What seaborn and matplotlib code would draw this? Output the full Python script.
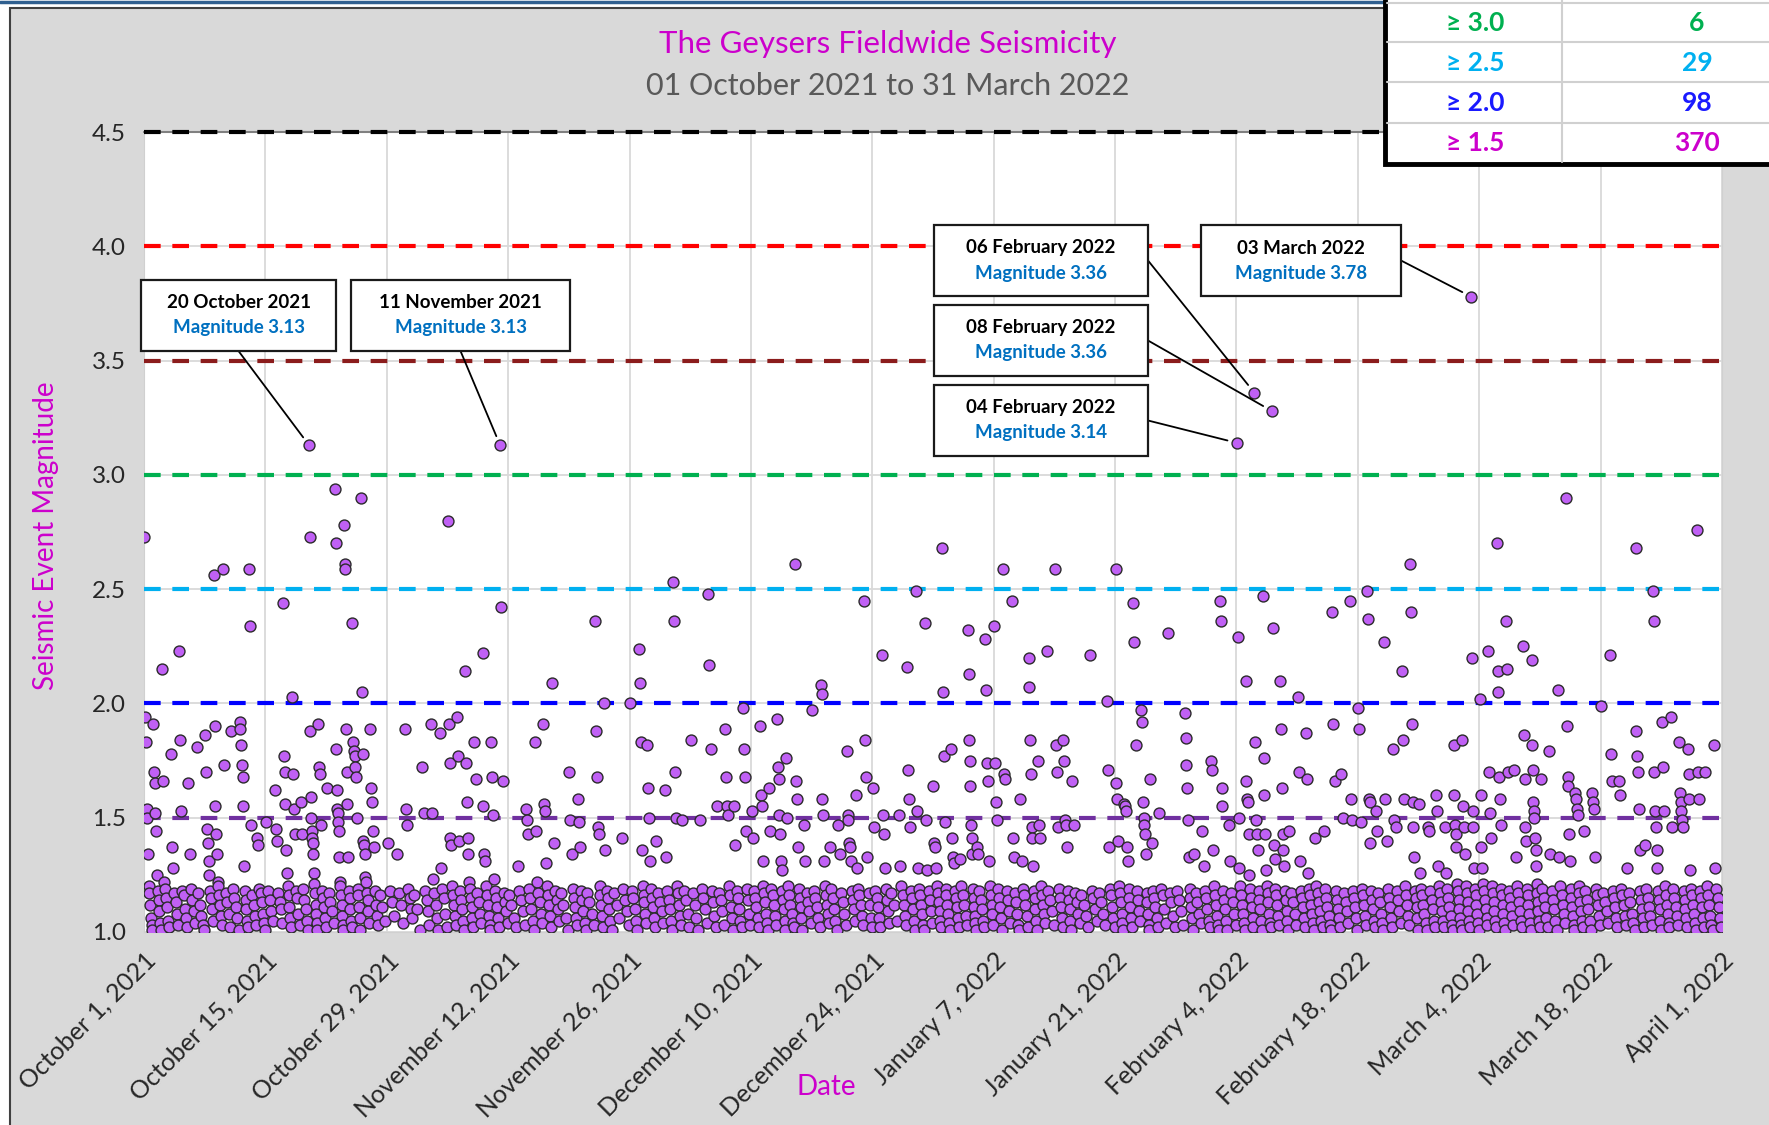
import pandas as pd
import matplotlib
matplotlib.use("Agg")
import matplotlib.pyplot as plt
import matplotlib.dates as mdates
from matplotlib.patches import Rectangle
from matplotlib.lines import Line2D
import seaborn as sns

# magnitudes, one string per day of the month
october = [
    "2.73 1.94 1.83 1.54 1.50 1.34 1.20 1.17 1.12 1.06 1.03 1.01",
    "1.91 1.70 1.65 1.52 1.44 1.25 1.18 1.14 1.09 1.04 1.01",
    "2.15 1.66 1.22 1.19 1.15 1.11 1.05 1.02",
    "1.78 1.37 1.28 1.17 1.13 1.08 1.03",
    "2.23 1.84 1.53 1.18 1.16 1.10 1.06 1.02",
    "1.65 1.34 1.19 1.14 1.09 1.04",
    "1.81 1.17 1.12 1.07 1.03 1.01",
    "1.86 1.70 1.45 1.39 1.31 1.25 1.18 1.15 1.10 1.05",
    "2.56 1.90 1.55 1.43 1.34 1.22 1.20 1.16 1.12 1.07 1.03",
    "2.59 1.73 1.17 1.13 1.08 1.02",
    "1.88 1.19 1.15 1.11 1.06 1.01",
    "1.92 1.89 1.82 1.73 1.68 1.55 1.29 1.18 1.14 1.10 1.05 1.02",
    "2.59 2.34 1.47 1.16 1.12 1.07 1.03",
    "1.41 1.38 1.19 1.17 1.13 1.08 1.04 1.01",
    "1.48 1.18 1.14 1.09 1.05",
    "1.62 1.45 1.40 1.17 1.13 1.10 1.04",
    "2.44 1.77 1.70 1.56 1.36 1.26 1.20 1.16 1.11 1.06 1.02",
    "2.03 1.69 1.54 1.43 1.18 1.15 1.08 1.03",
    "1.57 1.43 1.19 1.14 1.10 1.05 1.01",
    "3.13 2.73 1.88 1.59 1.50 1.44 1.41 1.39 1.34 1.26 1.21 1.17 1.12 1.08 1.04 1.01",
    "1.91 1.72 1.69 1.47 1.18 1.15 1.11 1.06 1.02",
    "1.63 1.17 1.13 1.09 1.04",
    "2.94 2.70 1.80 1.62 1.54 1.52 1.48 1.44 1.33 1.22 1.20 1.16 1.12 1.07 1.03 1.01",
    "2.78 2.61 2.59 1.89 1.70 1.56 1.33 1.18 1.15 1.10 1.05 1.02",
    "2.35 1.83 1.79 1.77 1.72 1.68 1.50 1.19 1.16 1.11 1.06 1.01",
    "2.90 2.05 1.78 1.40 1.38 1.34 1.24 1.22 1.17 1.14 1.09 1.04",
    "1.89 1.63 1.57 1.44 1.37 1.18 1.12 1.07 1.03",
    "1.16 1.11 1.05",
    "1.39 1.18 1.13 1.07",
    "1.34 1.17 1.12 1.04",
    "1.89 1.54 1.47 1.19 1.15 1.10 1.06",
]
november = [
    "1.16 1.10 1.01",
    "1.72 1.52 1.18 1.14 1.09 1.03",
    "1.91 1.52 1.23 1.17 1.12 1.06 1.01",
    "1.87 1.28 1.19 1.15 1.08 1.02",
    "2.80 1.91 1.74 1.41 1.38 1.20 1.16 1.12 1.07 1.03",
    "1.94 1.77 1.40 1.18 1.14 1.10 1.05 1.01",
    "2.14 1.74 1.57 1.41 1.34 1.22 1.19 1.15 1.11 1.06 1.02",
    "1.83 1.67 1.17 1.13 1.08 1.04",
    "2.22 1.55 1.34 1.31 1.20 1.16 1.12 1.07 1.03 1.01",
    "1.83 1.68 1.51 1.23 1.18 1.15 1.11 1.06 1.02",
    "3.13 2.42 1.66 1.17 1.13 1.09 1.04",
    "1.16 1.12 1.06 1.02",
    "1.29 1.18 1.14 1.09 1.03",
    "1.54 1.49 1.43 1.19 1.15 1.10 1.05 1.01",
    "1.83 1.44 1.22 1.17 1.13 1.08 1.04",
    "1.91 1.56 1.53 1.30 1.20 1.16 1.12 1.07 1.02",
    "2.09 1.39 1.18 1.14 1.10 1.05",
    "1.17 1.12 1.06 1.01",
    "1.70 1.49 1.34 1.19 1.15 1.11 1.06 1.03",
    "1.58 1.48 1.37 1.18 1.14 1.09 1.04 1.01",
    "1.17 1.13 1.08 1.03",
    "2.36 1.88 1.68 1.46 1.43 1.20 1.16 1.12 1.07 1.02",
    "2.00 1.36 1.18 1.15 1.10 1.05 1.01",
    "1.17 1.12 1.06",
    "1.41 1.19 1.14 1.09 1.03",
    "2.00 1.18 1.15 1.10 1.05 1.01",
    "2.24 2.09 1.83 1.36 1.20 1.16 1.13 1.08 1.04",
    "1.82 1.63 1.50 1.31 1.19 1.15 1.11 1.06 1.02",
    "1.40 1.17 1.13 1.09 1.04",
    "1.62 1.33 1.18 1.14 1.10 1.05 1.01",
]
december = [
    "2.53 2.36 1.70 1.50 1.20 1.17 1.12 1.07 1.03",
    "1.49 1.18 1.14 1.08 1.02",
    "1.84 1.17 1.12 1.06 1.01",
    "1.49 1.19 1.15 1.10 1.04",
    "2.48 2.17 1.80 1.18 1.13 1.07 1.02",
    "1.55 1.17 1.14 1.09 1.03",
    "1.89 1.68 1.55 1.51 1.20 1.16 1.11 1.06 1.01",
    "1.55 1.38 1.18 1.15 1.10 1.05 1.02",
    "1.98 1.80 1.68 1.44 1.19 1.14 1.08 1.03",
    "1.53 1.41 1.18 1.15 1.11 1.06 1.02",
    "1.90 1.60 1.55 1.31 1.20 1.17 1.13 1.08 1.04 1.01",
    "1.63 1.44 1.19 1.16 1.12 1.07 1.03",
    "1.93 1.72 1.67 1.51 1.43 1.31 1.27 1.18 1.14 1.10 1.05 1.01",
    "1.76 1.50 1.20 1.16 1.12 1.08 1.04 1.02",
    "2.61 1.66 1.58 1.37 1.19 1.15 1.11 1.06 1.01",
    "1.47 1.31 1.17 1.13 1.09 1.04",
    "1.97 1.18 1.15 1.11 1.06 1.02",
    "2.08 2.04 1.58 1.51 1.31 1.20 1.16 1.12 1.08 1.04",
    "1.37 1.19 1.15 1.10 1.05 1.01",
    "1.47 1.34 1.17 1.13 1.08 1.03",
    "1.79 1.51 1.49 1.39 1.37 1.31 1.18 1.14 1.10 1.05",
    "1.60 1.28 1.19 1.16 1.12 1.07 1.03",
    "2.45 1.84 1.68 1.33 1.17 1.12 1.06 1.02",
    "1.63 1.46 1.18 1.15 1.11 1.06 1.02",
    "2.21 1.51 1.43 1.28 1.19 1.14 1.09 1.04",
    "1.17 1.12 1.05",
    "1.51 1.29 1.20 1.16 1.12 1.07 1.03",
    "2.16 1.71 1.58 1.46 1.18 1.15 1.10 1.05 1.01",
    "2.49 1.53 1.28 1.19 1.16 1.12 1.08 1.03 1.01",
    "2.35 1.49 1.27 1.18 1.14 1.09 1.04",
    "1.64 1.39 1.37 1.28 1.20 1.17 1.13 1.09 1.05 1.02",
]
january = [
    "2.68 2.05 1.77 1.48 1.19 1.16 1.12 1.08 1.04 1.01",
    "1.80 1.41 1.33 1.30 1.18 1.15 1.11 1.06 1.02",
    "1.32 1.20 1.16 1.12 1.07 1.03",
    "2.32 2.13 1.84 1.75 1.64 1.47 1.41 1.34 1.19 1.15 1.11 1.07 1.04 1.01",
    "1.37 1.34 1.18 1.14 1.10 1.05 1.02",
    "2.28 2.06 1.74 1.66 1.31 1.20 1.16 1.12 1.08 1.03",
    "2.34 1.74 1.57 1.49 1.19 1.15 1.11 1.06 1.01",
    "2.59 1.69 1.67 1.18 1.14 1.09 1.04",
    "2.45 1.41 1.33 1.17 1.13 1.08 1.03 1.01",
    "1.58 1.31 1.19 1.16 1.12 1.07 1.02",
    "2.20 2.07 1.84 1.69 1.46 1.41 1.29 1.18 1.15 1.10 1.05 1.01",
    "1.75 1.47 1.41 1.20 1.16 1.12 1.08 1.04",
    "2.23 1.18 1.14 1.09 1.03",
    "2.59 1.82 1.70 1.46 1.19 1.15 1.11 1.06 1.02",
    "1.84 1.75 1.49 1.47 1.37 1.18 1.14 1.10 1.05 1.01",
    "1.66 1.47 1.17 1.13 1.08 1.04",
    "1.16 1.12 1.07 1.02",
    "2.21 1.18 1.15 1.10 1.05",
    "1.17 1.13 1.08 1.03",
    "2.01 1.71 1.37 1.19 1.16 1.11 1.06 1.02",
    "2.59 1.65 1.58 1.40 1.20 1.17 1.13 1.08 1.04 1.01",
    "1.56 1.55 1.53 1.37 1.31 1.19 1.15 1.11 1.06 1.02",
    "2.44 2.27 1.82 1.18 1.14 1.09 1.05",
    "1.97 1.92 1.57 1.50 1.47 1.43 1.34 1.17 1.13 1.08 1.03 1.01",
    "1.67 1.39 1.18 1.15 1.11 1.06 1.02",
    "1.52 1.19 1.16 1.10 1.04",
    "2.31 1.17 1.13 1.07 1.02",
    "1.18 1.14 1.09 1.03",
    "1.96 1.85 1.73 1.63 1.49 1.33 1.19 1.15 1.11 1.06 1.01",
    "1.34 1.17 1.13 1.08 1.04",
    "1.44 1.29 1.18 1.15 1.10 1.05 1.02",
]
february = [
    "1.75 1.71 1.36 1.20 1.16 1.12 1.07 1.03 1.01",
    "2.45 2.36 1.63 1.55 1.18 1.14 1.10 1.05 1.01",
    "1.47 1.31 1.17 1.13 1.08 1.03",
    "3.14 2.29 1.50 1.28 1.20 1.16 1.12 1.08 1.04 1.01",
    "2.10 1.66 1.58 1.57 1.43 1.25 1.19 1.15 1.11 1.06 1.02",
    "3.36 1.83 1.49 1.43 1.36 1.18 1.14 1.10 1.05 1.01",
    "2.47 1.76 1.60 1.43 1.27 1.20 1.17 1.13 1.08 1.04 1.02",
    "3.28 2.33 1.38 1.32 1.19 1.16 1.12 1.07 1.03",
    "2.10 1.89 1.63 1.43 1.36 1.29 1.18 1.14 1.09 1.05 1.01",
    "1.44 1.17 1.13 1.08 1.03",
    "2.03 1.70 1.31 1.18 1.15 1.11 1.06 1.02",
    "1.87 1.67 1.26 1.19 1.16 1.12 1.08 1.04 1.01",
    "1.41 1.20 1.17 1.13 1.09 1.05 1.02",
    "1.44 1.19 1.15 1.11 1.07 1.03 1.01",
    "2.40 1.91 1.66 1.18 1.14 1.10 1.06 1.02",
    "1.69 1.50 1.17 1.13 1.09 1.04",
    "2.45 1.58 1.49 1.18 1.15 1.11 1.06 1.01",
    "1.98 1.89 1.48 1.19 1.16 1.12 1.07 1.03",
    "2.49 2.37 1.58 1.57 1.39 1.18 1.14 1.10 1.05 1.02",
    "1.53 1.44 1.17 1.13 1.08 1.04 1.01",
    "2.27 1.58 1.40 1.19 1.15 1.11 1.06 1.02",
    "1.80 1.49 1.46 1.18 1.14 1.09 1.04",
    "2.14 1.84 1.58 1.20 1.16 1.12 1.07 1.03",
    "2.61 2.40 1.91 1.57 1.46 1.33 1.18 1.15 1.11 1.06 1.01",
    "1.56 1.26 1.19 1.16 1.12 1.08 1.04 1.01",
    "1.46 1.44 1.18 1.14 1.10 1.05 1.02",
    "1.60 1.53 1.29 1.20 1.17 1.13 1.09 1.05 1.02",
    "1.46 1.26 1.19 1.15 1.11 1.07 1.03 1.01",
]
march = [
    "1.82 1.60 1.47 1.43 1.37 1.21 1.18 1.14 1.10 1.06 1.03 1.01",
    "1.84 1.55 1.46 1.34 1.20 1.17 1.13 1.09 1.05 1.02",
    "3.78 2.20 1.53 1.46 1.28 1.19 1.16 1.12 1.08 1.04 1.01",
    "2.02 1.60 1.37 1.28 1.21 1.18 1.14 1.10 1.06 1.03",
    "2.23 1.70 1.52 1.41 1.20 1.17 1.13 1.09 1.05 1.02",
    "2.70 2.14 2.05 1.68 1.58 1.47 1.19 1.16 1.12 1.08 1.04 1.01",
    "2.36 2.15 1.70 1.18 1.15 1.11 1.07 1.03",
    "1.71 1.33 1.20 1.17 1.13 1.09 1.05 1.02",
    "2.25 1.86 1.67 1.46 1.40 1.19 1.16 1.12 1.08 1.04 1.01",
    "2.19 1.82 1.71 1.57 1.53 1.50 1.41 1.36 1.29 1.21 1.17 1.13 1.09 1.05 1.02",
    "1.67 1.19 1.15 1.11 1.06 1.02",
    "1.79 1.34 1.18 1.14 1.10 1.05 1.01",
    "2.06 1.33 1.20 1.16 1.12 1.08 1.04",
    "2.90 1.90 1.68 1.64 1.43 1.31 1.19 1.15 1.11 1.07 1.03 1.01",
    "1.61 1.58 1.54 1.51 1.20 1.17 1.13 1.09 1.05 1.02",
    "1.44 1.18 1.14 1.10 1.05 1.01",
    "1.61 1.57 1.54 1.33 1.19 1.16 1.12 1.07 1.03",
    "1.99 1.17 1.13 1.09 1.04",
    "2.21 1.78 1.66 1.18 1.15 1.11 1.06 1.02",
    "1.66 1.60 1.19 1.16 1.12 1.07 1.03",
    "1.28 1.17 1.13 1.08 1.04 1.01",
    "2.68 1.88 1.77 1.70 1.54 1.36 1.18 1.14 1.10 1.06 1.02",
    "1.38 1.19 1.15 1.11 1.07 1.03",
    "2.49 2.36 1.70 1.53 1.46 1.36 1.28 1.18 1.14 1.10 1.05 1.01",
    "1.92 1.72 1.53 1.20 1.16 1.12 1.08 1.04 1.02",
    "1.94 1.46 1.19 1.15 1.11 1.07 1.03",
    "1.83 1.61 1.57 1.53 1.49 1.46 1.18 1.14 1.10 1.06 1.02",
    "1.80 1.69 1.58 1.27 1.19 1.16 1.12 1.08 1.04 1.01",
    "2.76 1.70 1.58 1.18 1.15 1.11 1.06 1.02",
    "1.70 1.20 1.16 1.12 1.07 1.03 1.01",
    "1.82 1.28 1.19 1.15 1.11 1.06 1.02",
]
month_starts = ["2021-10-01", "2021-11-01", "2021-12-01", "2022-01-01", "2022-02-01", "2022-03-01"]
month_lists = [october, november, december, january, february, march]

threshold_levels = [4.5, 4.0, 3.5, 3.0, 2.5, 2.0, 1.5]
threshold_colors = ["#000000", "#ff0000", "#8b1c1c", "#00b050", "#00b0f0", "#0000ff", "#7030a0"]

table_labels = ["\u2265 3.0", "\u2265 2.5", "\u2265 2.0", "\u2265 1.5"]
table_counts = [6, 29, 98, 370]
table_colors = ["#00b050", "#00b0f0", "#1a1aff", "#cc00cc"]

annot_dates = ["2021-10-20", "2021-11-11", "2022-02-06", "2022-02-08", "2022-02-04", "2022-03-03"]
annot_titles = ["20 October 2021", "11 November 2021", "06 February 2022",
                "08 February 2022", "04 February 2022", "03 March 2022"]
annot_mags = ["3.13", "3.13", "3.36", "3.36", "3.14", "3.78"]
# box (left, top, right, bottom) in pixels and where the leader line leaves the box
annot_boxes = [(141, 280, 336, 351), (351, 280, 570, 351), (934, 225, 1148, 296),
               (934, 305, 1148, 376), (934, 385, 1148, 456), (1201, 225, 1401, 296)]
annot_anchor = [(0.5, 0.0), (0.5, 0.0), (1.0, 0.5), (1.0, 0.5), (1.0, 0.5), (1.0, 0.5)]

# build the event table; events of one day are spread across that day
rows = []
for start, days in zip(month_starts, month_lists):
    first = pd.Timestamp(start)
    for i, entry in enumerate(days):
        mags = [float(v) for v in entry.split()]
        n = len(mags)
        for k, m in enumerate(mags):
            rows.append((first + pd.Timedelta(days=i) + pd.Timedelta(hours=24 * (k + 0.5) / n), m))
quakes = pd.DataFrame(rows, columns=["date", "magnitude"])

sns.set_style("white")
plt.rcParams["font.family"] = ["Lato", "DejaVu Sans"]

W, H = 1769, 1125
def fx(px):
    return px / W
def fy(py):
    return 1 - py / H

fig = plt.figure(figsize=(W / 100, H / 100), dpi=100, facecolor="white")
# chart area with frame, kept behind the axes
fig.patches.append(Rectangle((fx(10), -0.01), 1.0, fy(8) + 0.01, transform=fig.transFigure,
                             facecolor="#d9d9d9", edgecolor="#404040", lw=1.5, zorder=-5))
fig.lines.append(Line2D([0, 1], [fy(1.5), fy(1.5)], transform=fig.transFigure,
                        color="#2f5f8f", lw=2.5, zorder=-4))

ax = fig.add_axes([fx(144), fy(932), fx(1722) - fx(144), fy(132) - fy(932)])
ax.set_facecolor("white")

for lvl, col in zip(threshold_levels, threshold_colors):
    ax.axhline(lvl, color=col, lw=3, ls=(0, (4, 2.8)), zorder=3, clip_on=False)

sns.scatterplot(data=quakes, x="date", y="magnitude", s=62, color="#c060f5",
                edgecolor="#2b2b2b", linewidth=1.0, ax=ax, zorder=5, legend=False)

ax.set_ylim(1.0, 4.5)
ax.set_yticks([1.0, 1.5, 2.0, 2.5, 3.0, 3.5, 4.0, 4.5])
ax.set_yticklabels([f"{v:.1f}" for v in ax.get_yticks()])
ticks = pd.date_range("2021-10-01", "2022-04-01", freq="14D")
ax.set_xlim(ticks[0], ticks[-1])
ax.set_xticks(ticks)
ax.set_xticklabels([f"{d:%B} {d.day}, {d.year}" for d in ticks], rotation=45,
                   ha="right", va="top", rotation_mode="anchor")
ax.tick_params(axis="x", length=0, pad=12, labelsize=18, labelcolor="#262626")
ax.tick_params(axis="y", length=0, pad=13, labelsize=17.5, labelcolor="#262626")
ax.grid(True, color="#d9d9d9", lw=1.3, zorder=0)
ax.set_axisbelow(True)
for side in ["left", "right", "bottom"]:
    ax.spines[side].set_color("#d0d0d0")
ax.spines["top"].set_color("#808080")
ax.spines["top"].set_linewidth(1.5)
ax.set_xlabel("")
ax.set_ylabel("")

fig.text(fx(888), fy(44), "The Geysers Fieldwide Seismicity", ha="center", va="center",
         color="#cc00cc", fontsize=22.5)
fig.text(fx(888), fy(86), "01 October 2021 to 31 March 2022", ha="center", va="center",
         color="#595959", fontsize=22)
fig.text(fx(46), fy(536), "Seismic Event Magnitude", rotation=90, ha="center", va="center",
         color="#cc00cc", fontsize=20)
fig.text(fx(826), fy(1087), "Date", ha="center", va="center", color="#cc00cc", fontsize=20)

# annotation boxes with leader lines
for date, title, mag, box, anc in zip(annot_dates, annot_titles, annot_mags, annot_boxes, annot_anchor):
    day = quakes[quakes["date"].dt.normalize() == pd.Timestamp(date)]
    top_evt = day.loc[day["magnitude"].idxmax()]
    l, t, r, b = box
    fig.patches.append(Rectangle((fx(l), fy(b)), fx(r) - fx(l), fy(t) - fy(b),
                                 transform=fig.transFigure, facecolor="white",
                                 edgecolor="#1a1a1a", lw=1.6, zorder=6))
    cx = (l + r) / 2
    fig.text(fx(cx), fy(t + 23), title, ha="center", va="center", fontsize=13.5,
             fontweight="bold", color="black", zorder=7)
    fig.text(fx(cx), fy(t + 48), f"Magnitude {mag}", ha="center", va="center", fontsize=13.5,
             fontweight="bold", color="#0070c0", zorder=7)
    sx = l + anc[0] * (r - l)
    sy = b - anc[1] * (b - t)
    ax.annotate("", xy=(mdates.date2num(top_evt["date"]), top_evt["magnitude"]), xycoords="data",
                xytext=(fx(sx), fy(sy)), textcoords="figure fraction",
                arrowprops=dict(arrowstyle="-", color="black", lw=1.3, shrinkA=0, shrinkB=7),
                annotation_clip=False, zorder=6)

# count table in the top right corner
tl, tr, tt, tb = 1385, 1775, -10, 164
fig.patches.append(Rectangle((fx(tl), fy(tb)), fx(tr) - fx(tl), fy(tt) - fy(tb),
                             transform=fig.transFigure, facecolor="white",
                             edgecolor="black", lw=3.5, zorder=8))
for yy in [3, 42, 82, 123]:
    fig.lines.append(Line2D([fx(tl + 2), 1], [fy(yy), fy(yy)], transform=fig.transFigure,
                            color="#d0d0d0", lw=1.5, zorder=9))
fig.lines.append(Line2D([fx(1562), fx(1562)], [fy(tb - 2), 1], transform=fig.transFigure,
                        color="#d0d0d0", lw=1.5, zorder=9))
row_y = [23, 63, 103, 143]
for lab, cnt, col, yy in zip(table_labels, table_counts, table_colors, row_y):
    fig.text(fx(1475), fy(yy), lab, ha="center", va="center", fontsize=19,
             fontweight="bold", color=col, zorder=10)
    fig.text(fx(1697), fy(yy), str(cnt), ha="center", va="center", fontsize=19,
             fontweight="bold", color=col, zorder=10)

fig.savefig("out.png", dpi=100, facecolor=fig.get_facecolor())
